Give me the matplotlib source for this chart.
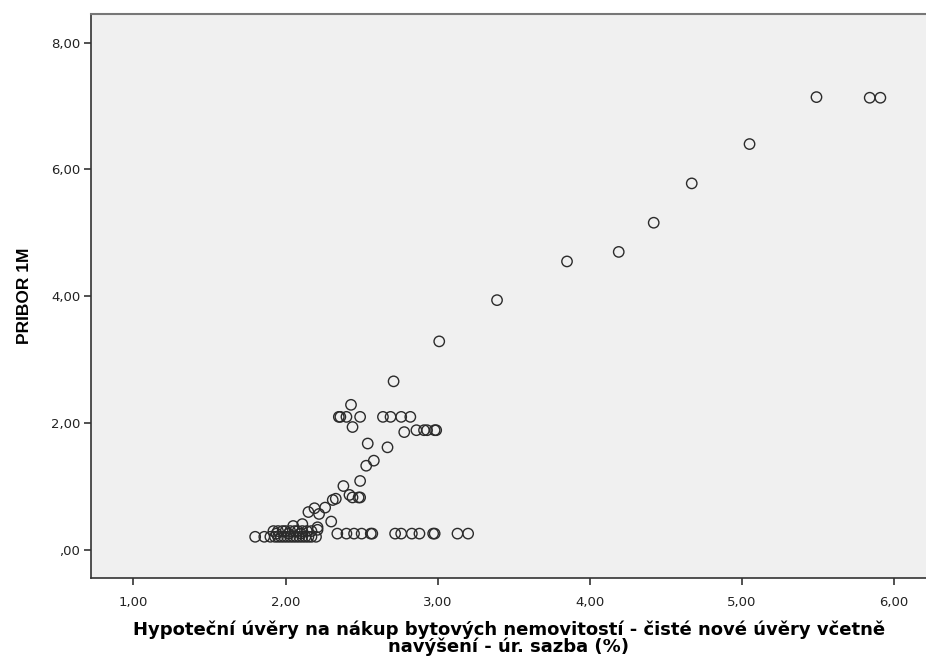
import matplotlib
matplotlib.use('Agg')
import matplotlib.pyplot as plt

plt.rcParams['font.family'] = ['DejaVu Sans']

# Úroková sazba hypotečních úvěrů (x) vs PRIBOR 1M (y)
rate_x = [
    5.49, 5.84, 5.91, 5.05, 4.67, 4.42, 4.19, 3.85, 3.39, 3.01, 2.71,
    2.43, 2.35, 2.36, 2.40, 2.49, 2.64, 2.69, 2.76, 2.82, 2.44,
    2.78, 2.86, 2.91, 2.93, 2.98, 2.99,
    2.54, 2.67, 2.58, 2.53, 2.49, 2.38, 2.42, 2.44, 2.48, 2.49,
    2.33, 2.31, 2.26, 2.19, 2.15, 2.22, 2.30, 2.21, 2.11, 2.05,
    2.34, 2.40, 2.45, 2.50, 2.56, 2.57, 2.72, 2.76, 2.83, 2.88, 2.97, 2.98, 3.13, 3.20,
    1.80, 1.86, 1.90, 1.93, 1.95, 1.97, 1.99, 2.01, 2.03, 2.05, 2.07, 2.09, 2.11,
    2.13, 2.15, 2.17, 2.20,
    1.92, 1.95, 1.98, 2.00, 2.03, 2.06, 2.08, 2.11, 2.14, 2.17,
    1.94, 2.02, 2.10, 2.21,
]
pribor_y = [
    7.14, 7.13, 7.13, 6.40, 5.78, 5.16, 4.70, 4.55, 3.94, 3.29, 2.66,
    2.29, 2.10, 2.10, 2.10, 2.10, 2.10, 2.10, 2.10, 2.10, 1.94,
    1.86, 1.89, 1.89, 1.89, 1.89, 1.89,
    1.68, 1.62, 1.41, 1.33, 1.09, 1.01, 0.87, 0.83, 0.83, 0.83,
    0.81, 0.79, 0.67, 0.66, 0.60, 0.57, 0.45, 0.32, 0.41, 0.38,
    0.26, 0.26, 0.26, 0.26, 0.26, 0.26, 0.26, 0.26, 0.26, 0.26, 0.26, 0.26, 0.26, 0.26,
    0.21, 0.21, 0.21, 0.21, 0.21, 0.21, 0.21, 0.21, 0.21, 0.21, 0.21, 0.21, 0.21,
    0.21, 0.21, 0.21, 0.21,
    0.30, 0.30, 0.30, 0.30, 0.30, 0.30, 0.30, 0.30, 0.30, 0.30,
    0.26, 0.26, 0.26, 0.36,
]

x_ticks = [1, 2, 3, 4, 5, 6]
x_tick_labels = ['1,00', '2,00', '3,00', '4,00', '5,00', '6,00']
y_ticks = [0, 2, 4, 6, 8]
y_tick_labels = [',00', '2,00', '4,00', '6,00', '8,00']

x_label = 'Hypoteční úvěry na nákup bytových nemovitostí - čisté nové úvěry včetně\nnavýšení - úr. sazba (%)'
y_label = 'PRIBOR 1M'

fig = plt.figure(figsize=(9.26, 6.57), dpi=100)
ax = fig.add_axes([0.0988, 0.1202, 0.9012, 0.8585])
ax.set_facecolor('#f0f0f0')

ax.scatter(rate_x, pribor_y, s=56, facecolors='none', edgecolors='#2b2b2b', linewidths=1.0, zorder=3)

ax.set_xlim(0.724, 6.21)
ax.set_ylim(-0.44, 8.45)

ax.set_xticks(x_ticks)
ax.set_xticklabels(x_tick_labels)
ax.set_yticks(y_ticks)
ax.set_yticklabels(y_tick_labels)
ax.tick_params(axis='both', direction='out', length=5, width=1.2, colors='#333333',
               labelsize=9.5, labelcolor='#222222', pad=3)
ax.tick_params(axis='x', pad=8)

for side in ['left', 'bottom']:
    ax.spines[side].set_color('#333333')
    ax.spines[side].set_linewidth(1.2)
ax.spines['top'].set_color('#777777')
ax.spines['top'].set_linewidth(1.5)
ax.spines['right'].set_visible(False)

ax.set_xlabel(x_label, fontsize=13, fontweight='bold', labelpad=8, linespacing=0.9)
ax.set_ylabel(y_label, fontsize=12.5, fontweight='bold', labelpad=14, family='Liberation Sans')

fig.savefig('out.png', dpi=100, facecolor='white')
